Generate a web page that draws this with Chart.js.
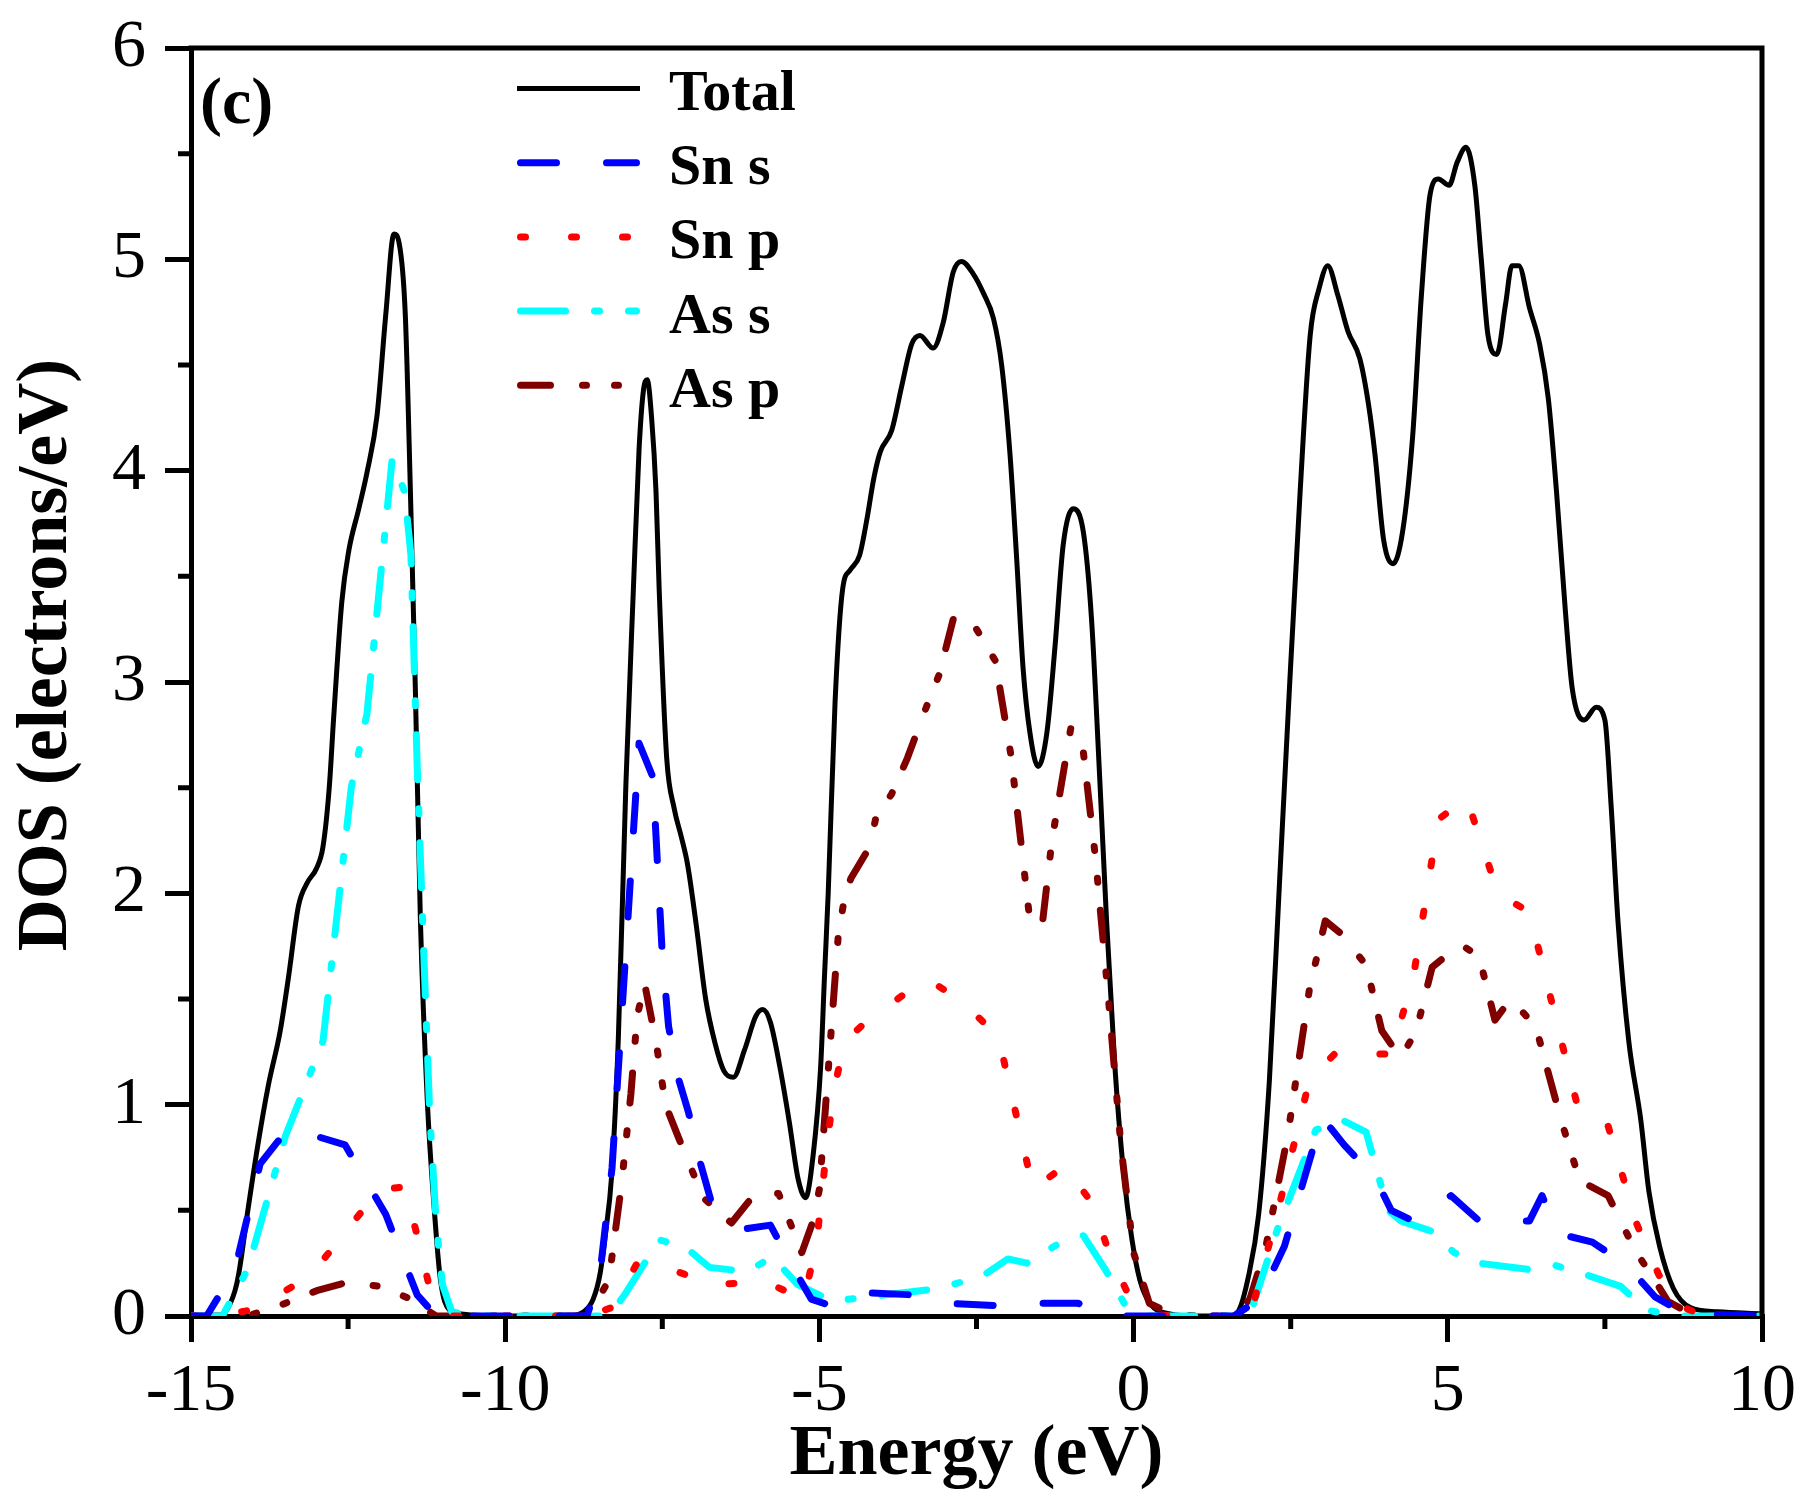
<!DOCTYPE html>
<html>
<head>
<meta charset="utf-8">
<script src="https://cdn.jsdelivr.net/npm/chart.js@4.4.1/dist/chart.umd.min.js"></script>
<style>
html,body{margin:0;padding:0;background:#fff;}
canvas{display:block;}
</style>
</head>
<body>
<canvas id="c" width="1807" height="1501" style="width:1807px;height:1501px"></canvas>
<script>
// ---- data (energy eV, DOS electrons/eV) ----
const seriesLabels = ['Total', 'Sn s', 'Sn p', 'As s', 'As p'];
const xTicks = [-15, -10, -5, 0, 5, 10];
const yTicks = [0, 1, 2, 3, 4, 5, 6];

const totalDOS = [
[-15,0],[-14.6,0],[-14.45,0.02],[-14.3,0.12],[-14.24,0.2],[-14.09,0.51],[-13.93,0.82],[-13.77,1.09],
[-13.58,1.35],[-13.45,1.6],[-13.29,1.94],[-13.15,2.05],[-13.0,2.12],[-12.9,2.22],[-12.8,2.5],[-12.73,2.83],
[-12.6,3.38],[-12.49,3.62],[-12.33,3.82],[-12.2,3.99],[-12.04,4.26],[-11.9,4.74],[-11.77,5.12],[-11.69,5.08],
[-11.59,4.74],[-11.51,3.92],[-11.43,2.97],[-11.35,1.88],[-11.24,1.02],[-11.13,0.51],[-11.03,0.17],[-10.89,0.03],
[-10.7,0.01],[-10,0],[-9,0],[-8.75,0.02],[-8.6,0.08],[-8.49,0.2],[-8.4,0.4],[-8.31,0.65],[-8.2,1.31],
[-8.08,2.51],[-7.96,3.44],[-7.87,4.1],[-7.8,4.38],[-7.74,4.43],[-7.67,4.25],[-7.6,3.9],[-7.55,3.44],
[-7.43,2.64],[-7.31,2.4],[-7.2,2.27],[-7.1,2.14],[-6.96,1.85],[-6.81,1.5],[-6.66,1.29],[-6.52,1.16],
[-6.37,1.13],[-6.19,1.26],[-6.01,1.42],[-5.9,1.45],[-5.78,1.39],[-5.63,1.18],[-5.48,0.92],[-5.34,0.65],
[-5.22,0.56],[-5.1,0.76],[-4.98,1.18],[-4.92,1.6],[-4.86,2.0],[-4.75,2.91],[-4.63,3.44],[-4.51,3.53],
[-4.36,3.6],[-4.25,3.76],[-4.13,3.97],[-4.03,4.09],[-3.85,4.19],[-3.69,4.4],[-3.53,4.6],[-3.4,4.64],
[-3.19,4.58],[-3.03,4.7],[-2.87,4.94],[-2.74,4.99],[-2.55,4.93],[-2.39,4.84],[-2.23,4.72],[-2.1,4.5],
[-1.97,4.09],[-1.86,3.58],[-1.76,3.07],[-1.65,2.76],[-1.52,2.6],[-1.38,2.76],[-1.25,3.17],[-1.12,3.65],
[-0.96,3.82],[-0.8,3.71],[-0.67,3.3],[-0.54,2.55],[-0.43,1.87],[-0.3,1.19],[-0.16,0.68],[-0.03,0.37],
[0.1,0.17],[0.26,0.06],[0.58,0.01],[1.0,0],[1.5,0],[1.66,0.02],[1.83,0.19],[1.99,0.48],[2.16,1.11],
[2.32,2.04],[2.48,2.97],[2.65,3.9],[2.81,4.64],[2.95,4.86],[3.09,4.97],[3.25,4.83],[3.41,4.66],[3.6,4.53],
[3.74,4.31],[3.84,4.08],[3.98,3.67],[4.13,3.56],[4.28,3.71],[4.44,4.16],[4.58,4.83],[4.72,5.31],[4.85,5.38],
[5.02,5.35],[5.15,5.46],[5.29,5.53],[5.43,5.35],[5.53,5.01],[5.64,4.64],[5.78,4.55],[5.92,4.79],[6.02,4.97],
[6.13,4.97],[6.3,4.77],[6.46,4.6],[6.6,4.34],[6.73,3.9],[6.87,3.34],[6.98,2.97],[7.17,2.82],[7.36,2.88],
[7.5,2.82],[7.6,2.41],[7.71,1.86],[7.88,1.3],[8.07,0.93],[8.2,0.59],[8.37,0.33],[8.59,0.13],[8.86,0.04],
[9.29,0.02],[10,0.01]
];

const snS = [
[-15,0],[-14.75,0],[-14.3,0.22],[-13.9,0.72],[-13.45,0.89],[-12.55,0.81],[-11.9,0.48],[-11.4,0.1],[-11.1,0],
[-10,0],[-8.7,0],[-8.5,0.18],[-8.3,0.7],[-7.87,2.71],[-7.65,2.55],[-7.5,1.71],[-7.4,1.37],[-7.25,1.13],
[-7.08,0.96],[-6.9,0.73],[-6.72,0.54],[-6.25,0.41],[-5.78,0.43],[-5.42,0.23],[-5.13,0.08],[-4.83,0.05],
[-4.25,0.11],[-3.5,0.1],[-2.95,0.06],[-2.23,0.05],[-1.65,0.06],[-0.88,0.06],[-0.3,0],[0,0],[1.6,0],
[2.0,0.08],[2.4,0.33],[3.0,0.94],[3.35,0.81],[3.85,0.65],[4.1,0.5],[4.45,0.45],[5.05,0.57],[5.5,0.45],
[6.3,0.45],[6.5,0.57],[6.75,0.39],[7.3,0.35],[7.85,0.24],[8.3,0.09],[8.6,0.04],[9.0,0.01],[10,0]
];

const snP = [
[-15,0],[-14.6,0],[-14.0,0.03],[-13.1,0.19],[-12.0,0.6],[-11.6,0.61],[-11.4,0.38],[-11.2,0.13],[-10.9,0],
[-10,0],[-8.7,0],[-8.3,0.04],[-7.9,0.25],[-7.45,0.23],[-6.7,0.15],[-5.85,0.16],[-5.25,0.08],[-5.05,0.33],
[-4.9,0.75],[-4.78,1.05],[-4.6,1.3],[-4.3,1.38],[-3.3,1.6],[-2.7,1.48],[-2.15,1.32],[-1.6,0.6],[-1.1,0.71],
[-0.65,0.53],[-0.38,0.29],[-0.05,0.08],[0.3,0.01],[0.6,0],[1.6,0],[1.9,0.05],[2.3,0.5],[2.8,1.12],[3.2,1.24],
[4.1,1.24],[4.45,1.6],[4.85,2.35],[5.3,2.45],[5.8,2.0],[6.3,1.91],[7.1,0.95],[7.55,0.9],[8.0,0.44],[8.35,0.2],
[8.6,0.06],[9.0,0.01],[10,0]
];

const asS = [
[-15,0],[-14.5,0],[-14.1,0.22],[-13.5,0.85],[-12.9,1.3],[-12.45,2.5],[-12.2,2.85],[-11.8,4.05],[-11.6,3.9],
[-11.5,3.6],[-11.4,2.6],[-11.3,1.75],[-11.2,0.95],[-11.1,0.45],[-11.0,0.15],[-10.85,0.02],[-10.5,0],[-8.6,0],
[-8.35,0],[-8.1,0.1],[-7.55,0.36],[-7.15,0.33],[-6.75,0.23],[-6.15,0.21],[-5.75,0.28],[-5.35,0.15],[-4.8,0.07],
[-3.1,0.13],[-2.4,0.19],[-2.0,0.27],[-1.7,0.25],[-1.15,0.35],[-0.8,0.38],[-0.45,0.22],[-0.15,0.06],[0.2,0],
[1.6,0],[1.9,0.05],[2.3,0.42],[2.9,0.88],[3.3,0.93],[3.7,0.87],[4.05,0.5],[4.25,0.45],[4.75,0.4],[5.1,0.3],
[5.5,0.25],[6.3,0.22],[6.7,0.24],[7.25,0.19],[7.75,0.14],[8.15,0.03],[8.6,0],[10,0]
];

const asP = [
[-15,0],[-14.1,0],[-13.5,0.06],[-13.0,0.12],[-12.5,0.16],[-12.0,0.14],[-11.5,0.08],[-11.1,0],[-10.5,0],
[-8.7,0],[-8.6,0.04],[-8.35,0.17],[-8.15,0.62],[-8.0,1.05],[-7.9,1.42],[-7.78,1.57],[-7.6,1.3],[-7.45,1.0],
[-7.25,0.85],[-6.85,0.56],[-6.4,0.44],[-6.05,0.57],[-5.65,0.58],[-5.28,0.3],[-5.1,0.45],[-5.0,0.6],[-4.9,1.0],
[-4.7,1.8],[-4.6,1.98],[-4.5,2.07],[-4.2,2.22],[-4.1,2.36],[-3.85,2.47],[-3.6,2.64],[-3.3,2.88],[-3.1,3.03],
[-2.85,3.32],[-2.5,3.25],[-2.2,3.1],[-1.95,2.65],[-1.65,1.87],[-1.45,1.86],[-1.3,2.25],[-1.0,2.78],[-0.8,2.67],
[-0.6,2.15],[-0.4,1.5],[-0.2,0.8],[0.0,0.3],[0.25,0.06],[0.6,0.01],[1.0,0],[1.6,0],[1.85,0.08],[2.1,0.32],
[2.45,0.85],[2.8,1.55],[3.05,1.87],[3.3,1.81],[3.7,1.66],[3.95,1.35],[4.25,1.22],[4.5,1.35],[4.75,1.65],
[5.2,1.76],[5.5,1.7],[5.75,1.4],[6.0,1.5],[6.4,1.37],[6.8,0.93],[7.1,0.64],[7.55,0.57],[8.0,0.3],[8.25,0.19],
[8.5,0.07],[8.8,0.02],[9.2,0],[10,0]
];

const toXY = arr => arr.map(p => ({x: p[0], y: p[1]}));

const SERIF = 'Liberation Serif';

// frame (top/right) and minor ticks
const framePlugin = {
  id: 'frameMinor',
  afterDraw(chart) {
    const {ctx, chartArea: a, scales: {x, y}} = chart;
    ctx.save();
    ctx.strokeStyle = '#000';
    ctx.lineWidth = 5;
    ctx.setLineDash([]);
    ctx.lineCap = 'butt';
    ctx.beginPath();
    ctx.moveTo(a.left - 2.5, a.top);
    ctx.lineTo(a.right + 2.5, a.top);
    ctx.moveTo(a.right, a.top);
    ctx.lineTo(a.right, a.bottom + 2.5);
    ctx.stroke();
    ctx.beginPath();
    for (let i = 0; i < xTicks.length - 1; i++) {
      const px = x.getPixelForValue((xTicks[i] + xTicks[i + 1]) / 2);
      ctx.moveTo(px, a.bottom);
      ctx.lineTo(px, a.bottom + 13);
    }
    for (let i = 0; i < yTicks.length - 1; i++) {
      const py = y.getPixelForValue((yTicks[i] + yTicks[i + 1]) / 2);
      ctx.moveTo(a.left, py);
      ctx.lineTo(a.left - 13, py);
    }
    ctx.stroke();
    ctx.restore();
  }
};

// legend and panel label
const legendPlugin = {
  id: 'insetLegend',
  afterDraw(chart) {
    const ctx = chart.ctx;
    ctx.save();
    const x0 = 517, x1 = 640, y0 = 88.5, dy = 74.2;
    chart.data.datasets.forEach((ds, i) => {
      const yl = y0 + i * dy;
      const cap = ds.borderCapStyle || 'butt';
      const inset = cap === 'round' ? ds.borderWidth / 2 : 0;
      ctx.strokeStyle = ds.borderColor;
      ctx.lineWidth = ds.borderWidth;
      ctx.lineCap = cap;
      ctx.setLineDash(ds.borderDash || []);
      ctx.beginPath();
      ctx.moveTo(x0 + inset, yl);
      ctx.lineTo(x1 - inset, yl);
      ctx.stroke();
      ctx.setLineDash([]);
      ctx.fillStyle = '#000';
      ctx.font = 'bold 58px "' + SERIF + '"';
      ctx.textBaseline = 'alphabetic';
      ctx.textAlign = 'left';
      ctx.fillText(ds.label, 669, yl + 21.5);
    });
    ctx.font = 'bold 66px "' + SERIF + '"';
    ctx.fillText('(c)', 200, 123);
    ctx.restore();
  }
};

const pdosStyle = {
  pointRadius: 0, borderWidth: 7, fill: false, tension: 0,
  borderCapStyle: 'round', borderJoinStyle: 'round', order: 0
};

new Chart(document.getElementById('c'), {
  type: 'line',
  data: {
    datasets: [
      {label: seriesLabels[0], data: toXY(totalDOS), borderColor: '#000000', borderWidth: 5,
       pointRadius: 0, fill: false, cubicInterpolationMode: 'monotone', borderJoinStyle: 'round', order: 10},
      Object.assign({label: seriesLabels[1], data: toXY(snS), borderColor: '#0000ff', borderDash: [36, 50]}, pdosStyle),
      Object.assign({label: seriesLabels[2], data: toXY(snP), borderColor: '#ff0000', borderDash: [5, 46]}, pdosStyle),
      Object.assign({label: seriesLabels[3], data: toXY(asS), borderColor: '#00ffff', borderDash: [45, 29, 5, 29]}, pdosStyle),
      Object.assign({label: seriesLabels[4], data: toXY(asP), borderColor: '#800000', borderDash: [30, 32, 4, 28, 4, 28]}, pdosStyle)
    ]
  },
  options: {
    responsive: false,
    animation: false,
    devicePixelRatio: 1,
    layout: {padding: {left: 0, right: 45, top: 48, bottom: 0}},
    plugins: {legend: {display: false}, tooltip: {enabled: false}, title: {display: false}},
    scales: {
      x: {
        type: 'linear', position: 'bottom', min: -15, max: 10,
        afterFit(s) { s.height = 185; },
        afterBuildTicks(s) { s.ticks = xTicks.map(v => ({value: v})); },
        ticks: {font: {family: SERIF, size: 68, lineHeight: 1.2}, color: '#000', padding: 9, maxRotation: 0, autoSkip: false},
        grid: {drawOnChartArea: false, drawTicks: true, tickLength: 26, color: '#000', lineWidth: 5},
        border: {display: true, color: '#000', width: 5},
        title: {display: true, text: 'Energy (eV)', color: '#000',
                font: {family: SERIF, size: 72, weight: 'bold', lineHeight: 1}, padding: {top: 0, bottom: 9.5}}
      },
      y: {
        type: 'linear', position: 'left', min: 0, max: 6,
        afterFit(s) { s.width = 191; },
        afterBuildTicks(s) { s.ticks = yTicks.map(v => ({value: v})); },
        ticks: {font: {family: SERIF, size: 68, lineHeight: 0.8}, color: '#000', padding: 19, autoSkip: false},
        grid: {drawOnChartArea: false, drawTicks: true, tickLength: 26, color: '#000', lineWidth: 5},
        border: {display: true, color: '#000', width: 5},
        title: {display: true, text: '   DOS (electrons/eV)', color: '#000',
                font: {family: SERIF, size: 72, weight: 'bold', lineHeight: 1}, padding: {top: 11, bottom: 0}}
      }
    }
  },
  plugins: [framePlugin, legendPlugin]
});
</script>
</body>
</html>
